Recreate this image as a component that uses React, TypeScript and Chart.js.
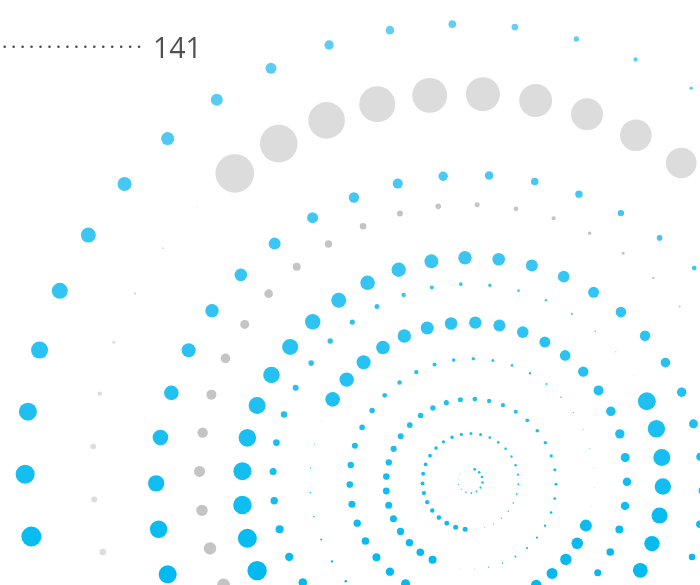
import React, { useEffect, useRef } from 'react';
import { Chart, registerables } from 'chart.js';

Chart.register(...registerables);

// ---- data ----
const ringNames = ['A', 'B', 'C', 'D', 'E', 'F', 'G', 'H', 'I', 'J', 'K'];
const ringRadius = [12.3, 48, 85, 122.3, 158.5, 195, 230.4, 269.2, 314.7, 372.3, 438];
const ringStartAngle = [20.9, 186.4, -153.1, 111.4, -59, 66.5, -111, -114.4, -105.6, -38.2, -99.8];
const ringAngleStep = [25.7, 11.61, 9.73, 9.23, 8.78, 8.57, 8.4, 8.3, 8.38, 8.19, 8.2];
const ringCenterX = [0.3, 0.5, 1, 2, -1.5, -2, 2.2, -1.3, 0.8, -5, -7];
const ringCenterY = [0.2, -0.5, -3, 0, 0, 2, -7.1, 7.2, -8.7, 15, 19];
const ringTone = ['blue', 'blue', 'blue', 'blue', 'blue', 'blue', 'blue', 'grayDark', 'blue', 'grayLight', 'blue'];

const sizesA = [1.4, 1.3, 1.3, 1.2, 1.1, 1.0, 0.9, 0.8, 0.6, 0.5, 0.45, 0.4, 0.3, 0.25];
const sizesB = [2.5, 2.5, 2.4, 2.3, 2.2, 2.1, 2.1, 2.0, 2.0, 1.9, 1.9, 1.8, 1.7, 1.7, 1.6, 1.5, 1.5, 1.4, 1.3, 1.3, 1.2, 1.2, 1.1, 1.0, 0.9, 0.8, 0.7, 0.6, 0.5, 0.4, 0.3];
const sizesC = [4.0, 3.8, 3.7, 3.6, 3.5, 3.5, 3.4, 3.3, 3.2, 3.1, 3.0, 2.9, 2.8, 2.7, 2.6, 2.5, 2.4, 2.2, 2.1, 2.0, 1.9, 1.8, 1.7, 1.6, 1.5, 1.45, 1.4, 1.3, 1.2, 1.1, 1.0, 0.9, 0.8, 0.6, 0.4, 0.3, 0.2];
const sizesD = [6.0, 5.8, 5.7, 5.5, 5.3, null, null, null, null, null, null, 4.5, 4.2, 4.0, 3.8, 3.7, 3.5, 3.3, 3.2, 3.0, 2.8, 2.7, 2.4, 2.3, 2.2, 2.0, 1.8, 1.7, 1.5, 1.3, 1.2, 1.0, 0.8, 0.7, 0.6, 0.5, 0.4, 0.35, 0.3];
const sizesE = [7.3, 7.2, 7.0, 6.8, 6.7, 6.5, 6.3, 6.2, 6.0, 5.8, 5.5, 5.3, 5.2, 5.0, 4.8, 4.7, 4.5, 4.3, 4.2, 4.0, 3.8, 3.5, null, null, null, null, null, null, null, null, null, null, null, 1.3, 1.2, 1.0, 0.8, 0.7, 0.6, 0.5, 0.3];
const sizesF = [9.0, 8.7, 8.5, 8.2, 8.0, 7.7, 7.4, null, null, null, null, null, null, null, null, null, null, null, null, null, 4.3, 4.2, 4.0, 3.7, 3.5, 3.3, 3.2, 3.0, 2.8, 2.7, 2.6, 2.5, 2.2, 2.0, 1.8, 1.7, 1.3, 1.2, 1.0, 0.7, 0.5, 0.3];
const sizesG = [9.7, 9.5, 9.2, 9.0, 8.8, 8.5, 8.3, 8.0, 7.7, 7.5, 7.3, 7.2, 7.0, 6.7, 6.3, 6.0, 5.8, 5.5, 5.3, 5.2, 4.8, 4.7, 4.5, 4.3, 4.0, 3.7, 3.3];
const sizesH = [6.4, 6.2, 5.7, 5.5, 5.2, 5.0, 4.8, 4.5, 4.3, 4.0, 3.7, 3.3, 3.0, 2.8, 2.5, 2.3, 2.0, 1.7, 1.5, 1.2, 1.0];
const sizesI = [9.0, 8.7, 8.2, 7.8, 7.3, 7.0, 6.7, 6.3, 6.0, 5.5, 5.2, 5.0, 4.7, 4.3, 3.8, 3.7, 3.2, 2.8, 2.3];
const sizesJ = [19.3, 18.8, 18.3, 18.0, 17.5, 17.0, 16.5, 16.0, 15.8, 15.3, null, null, null, null, null, null, null, null, null, null, null, null, null, null, null, null, null, null, null, null, null, null, null, null, null, null, 3.3, 3.0, 2.7, 2.2, 1.5, 1.2, 1.0, 0.5];
const sizesK = [10.0, 9.5, 9.0, 8.5, 8.0, 7.5, 7.0, 6.5, 6.0, 5.5, 4.7, 4.3, 3.8, 3.3, 2.7, 2.2, 1.7];
const ringSizes = [sizesA, sizesB, sizesC, sizesD, sizesE, sizesF, sizesG, sizesH, sizesI, sizesJ, sizesK];

const labelValue = '141';

// ---- layout / style ----
const X_MIN = -470;
const X_MAX = 230;
const Y_MIN = -104;
const Y_MAX = 481;
const BLUE_TOP = [104, 206, 245];
const BLUE_BOTTOM = [0, 186, 240];
const GRAY_DARK = '#c4c4c4';
const GRAY_LIGHT = '#dcdcdc';

function buildPoints(ring: number) {
  const pts: { x: number; y: number; s: number }[] = [];
  const sizes = ringSizes[ring];
  for (let i = 0; i < sizes.length; i++) {
    const s = sizes[i];
    if (s === null || s === undefined) continue;
    const th = ((ringStartAngle[ring] + i * ringAngleStep[ring]) * Math.PI) / 180;
    pts.push({
      x: ringCenterX[ring] + ringRadius[ring] * Math.sin(th),
      y: ringCenterY[ring] + ringRadius[ring] * Math.cos(th),
      s,
    });
  }
  return pts;
}

function blueAt(chart: any, v: number) {
  const sc = chart.scales?.y;
  const py = sc ? sc.getPixelForValue(v) : Y_MAX - v;
  const t = Math.max(0, Math.min(1, py / 585));
  const c = BLUE_TOP.map((a, k) => Math.round(a + (BLUE_BOTTOM[k] - a) * t));
  return `rgb(${c[0]},${c[1]},${c[2]})`;
}

const labelPlugin = {
  id: 'leaderLabel',
  afterDraw(chart: any) {
    const c = chart.ctx;
    c.save();
    c.fillStyle = '#4a4a4a';
    for (let x = 4.7; x < 141; x += 8.96) {
      c.beginPath();
      c.arc(x, 46.8, 1.3, 0, Math.PI * 2);
      c.fill();
    }
    c.fillStyle = '#505050';
    c.font = '28.5px "Open Sans", "Noto Sans", sans-serif';
    c.textBaseline = 'alphabetic';
    c.textAlign = 'left';
    c.fillText(labelValue, 153, 57.5);
    c.restore();
  },
};

export default function App() {
  const ref = useRef<HTMLCanvasElement>(null);
  useEffect(() => {
    document.body.style.margin = '0';
    const datasets = ringNames.map((name, ring) => {
      const tone = ringTone[ring];
      const color = (ctx: any) => {
        if (tone === 'grayDark') return GRAY_DARK;
        if (tone === 'grayLight') return GRAY_LIGHT;
        const v = ctx.raw ? ctx.raw.y : 0;
        return blueAt(ctx.chart, v);
      };
      return {
        label: name,
        data: buildPoints(ring),
        showLine: false,
        pointRadius: (ctx: any) => (ctx.raw ? ctx.raw.s : 0),
        pointHoverRadius: (ctx: any) => (ctx.raw ? ctx.raw.s : 0),
        pointBackgroundColor: color,
        pointHoverBackgroundColor: color,
        backgroundColor: color,
        pointBorderWidth: 0,
        pointHoverBorderWidth: 0,
        borderWidth: 0,
        clip: false as any,
      };
    });
    const chart = new Chart(ref.current!, {
      type: 'scatter',
      data: { datasets },
      options: {
        animation: false,
        responsive: false,
        devicePixelRatio: 1,
        events: [],
        layout: { padding: 0, autoPadding: false },
        plugins: { legend: { display: false }, tooltip: { enabled: false }, title: { display: false } },
        scales: {
          x: { type: 'linear', min: X_MIN, max: X_MAX, display: false },
          y: { type: 'linear', min: Y_MIN, max: Y_MAX, display: false },
        },
      },
      plugins: [labelPlugin],
    });
    return () => chart.destroy();
  }, []);
  return (
    <div style={{ width: 700, height: 585, position: 'relative' }}>
      <canvas ref={ref} width={700} height={585} style={{ display: 'block' }} />
    </div>
  );
}
